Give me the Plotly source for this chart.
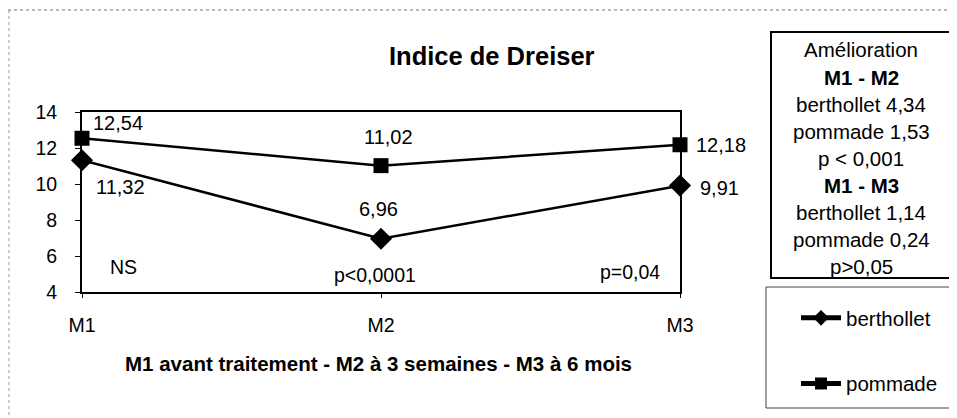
import plotly.graph_objects as go

# page body has an 8px margin: the figure starts at (8, 8) in the window
OFF = 8
W, H = 957 - OFF, 418 - OFF

# ---- data ----
categories = ["M1", "M2", "M3"]
berthollet = [11.32, 6.96, 9.91]
pommade = [12.54, 11.02, 12.18]
y_ticks = [4, 6, 8, 10, 12, 14]
stats_labels = ["NS", "p<0,0001", "p=0,04"]
title_text = "Indice de Dreiser"
xaxis_title = "M1 avant traitement - M2 à 3 semaines - M3 à 6 mois"
box_lines = ["Amélioration", "<b>M1 - M2</b>", "berthollet 4,34", "pommade 1,53",
             "p < 0,001", "<b>M1 - M3</b>", "berthollet 1,14", "pommade 0,24", "p>0,05"]

FONT = "Liberation Sans, Arial, sans-serif"


def px_x(x):
    return (x - OFF) / W


def px_y(y):
    return (H - (y - OFF)) / H


def fmt(v):
    return f"{v:.2f}".replace(".", ",")


fig = go.Figure()
fig.add_trace(go.Scatter(
    x=categories, y=berthollet, name="berthollet", mode="lines+markers",
    line=dict(color="black", width=2.5),
    marker=dict(symbol="diamond", size=17, color="black"),
    cliponaxis=False, legendgroup="b"))
fig.add_trace(go.Scatter(
    x=categories, y=pommade, name="pommade", mode="lines+markers",
    line=dict(color="black", width=2.5),
    marker=dict(symbol="square", size=15, color="black"),
    cliponaxis=False, legendgroup="p"))

annotations = []
# data labels
b_shifts = [(38, -27), (-3, 30), (39, -2)]
p_shifts = [(36, 15), (7, 29), (41, 0)]
for c, v, (dx, dy) in zip(categories, berthollet, b_shifts):
    annotations.append(dict(x=c, y=v, xref="x", yref="y", text=fmt(v), showarrow=False,
                            xshift=dx, yshift=dy, font=dict(size=20, color="black", family=FONT)))
for c, v, (dx, dy) in zip(categories, pommade, p_shifts):
    annotations.append(dict(x=c, y=v, xref="x", yref="y", text=fmt(v), showarrow=False,
                            xshift=dx, yshift=dy, font=dict(size=20, color="black", family=FONT)))
# significance labels
s_shifts = [(41, 25), (-6, 17), (-50, 20)]
for c, t, (dx, dy) in zip(categories, stats_labels, s_shifts):
    annotations.append(dict(x=c, y=y_ticks[0], xref="x", yref="y", text=t, showarrow=False,
                            xshift=dx, yshift=dy, font=dict(size=19.5, color="black", family=FONT)))
# title
annotations.append(dict(x=px_x(492), y=px_y(56), xref="paper", yref="paper", text=f"<b>{title_text}</b>",
                        showarrow=False, xanchor="center", yanchor="middle",
                        font=dict(size=25.5, color="black", family=FONT)))
# axis title
annotations.append(dict(x=px_x(378), y=px_y(363), xref="paper", yref="paper", text=f"<b>{xaxis_title}</b>",
                        showarrow=False, xanchor="center", yanchor="middle",
                        font=dict(size=20.5, color="black", family=FONT)))
# improvement box text, one line at a time
for i, line in enumerate(box_lines):
    annotations.append(dict(x=px_x(861), y=px_y(50 + 27 * i), xref="paper", yref="paper", text=line,
                            showarrow=False, xanchor="center", yanchor="middle",
                            font=dict(size=20.5, color="black", family=FONT)))

shapes = [
    # outer frame (dotted, light)
    dict(type="line", xref="paper", yref="paper", x0=px_x(8), x1=1, y0=px_y(10), y1=px_y(10),
         line=dict(color="#777", width=1, dash="dot")),
    dict(type="line", xref="paper", yref="paper", x0=px_x(9), x1=px_x(9), y0=px_y(10), y1=0,
         line=dict(color="#999", width=1, dash="dot")),
    # improvement box
    dict(type="rect", xref="paper", yref="paper", x0=px_x(771), x1=px_x(952), y0=px_y(278), y1=px_y(32),
         line=dict(color="black", width=2)),
    # legend box
    dict(type="rect", xref="paper", yref="paper", x0=px_x(766), x1=px_x(950), y0=px_y(408), y1=px_y(287),
         line=dict(color="#444", width=1)),
]

fig.update_layout(
    width=W, height=H, autosize=False,
    margin=dict(l=0, r=0, t=0, b=0, autoexpand=False),
    paper_bgcolor="white", plot_bgcolor="white",
    font=dict(family=FONT, color="black", size=19),
    showlegend=True,
    legend=dict(x=px_x(796), y=px_y(298), xanchor="left", yanchor="top",
                bgcolor="rgba(0,0,0,0)", borderwidth=0, tracegroupgap=36,
                itemsizing="constant",
                font=dict(size=20.5, family=FONT, color="black"), itemwidth=40),
    xaxis=dict(type="category", categoryorder="array", categoryarray=categories,
               range=[0, 2], domain=[px_x(82), px_x(680)], automargin=False,
               showline=True, mirror=True, linecolor="black", linewidth=2,
               ticks="outside", ticklen=4, tickcolor="black", tickwidth=1,
               showgrid=False, zeroline=False, ticklabelstandoff=11,
               tickfont=dict(size=19.5, family=FONT, color="black")),
    yaxis=dict(range=[4, 14], tickvals=y_ticks, domain=[px_y(292), px_y(112)], automargin=False,
               showline=True, mirror=True, linecolor="black", linewidth=2,
               ticks="outside", ticklen=5, tickcolor="black", tickwidth=1,
               showgrid=False, zeroline=False, ticklabelstandoff=14,
               tickfont=dict(size=19.5, family=FONT, color="black")),
    annotations=annotations,
    shapes=shapes,
)

fig.write_html("out.html")
